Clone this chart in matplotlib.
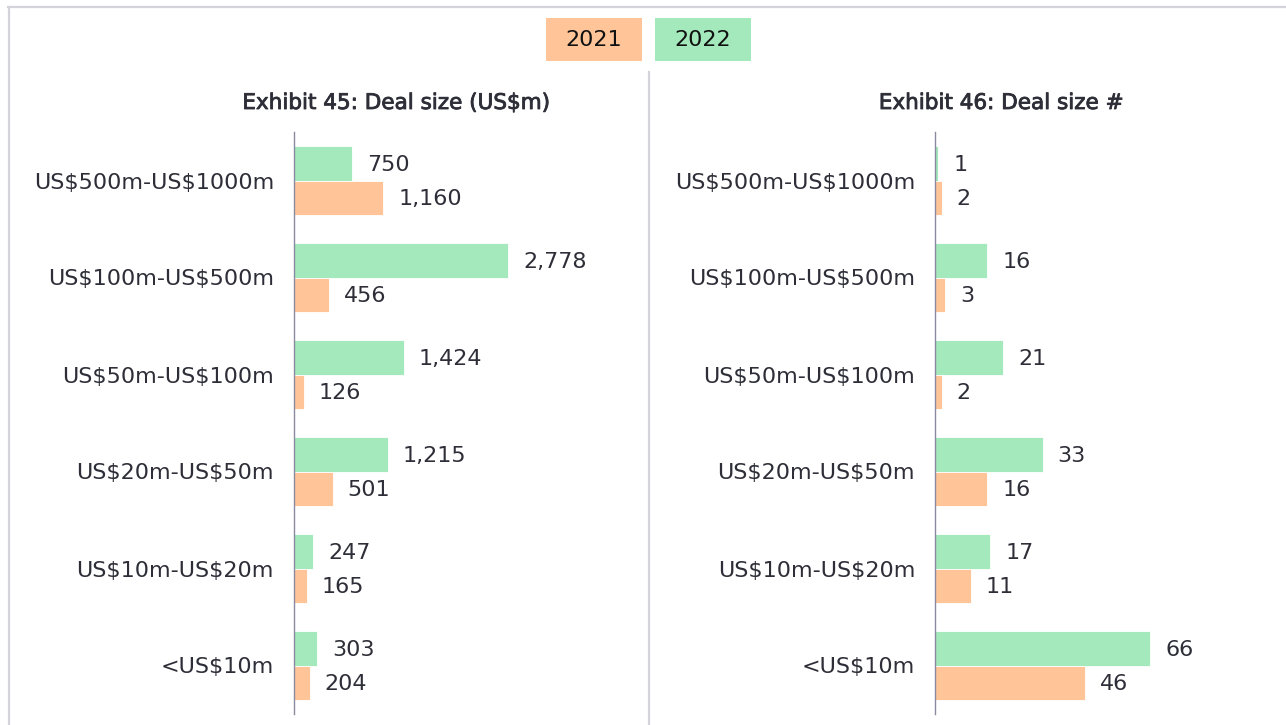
import matplotlib
matplotlib.use("Agg")
import matplotlib.pyplot as plt
import matplotlib.patheffects as pe
from matplotlib.patches import Rectangle
from matplotlib.lines import Line2D

categories = ["US$500m-US$1000m", "US$100m-US$500m", "US$50m-US$100m",
              "US$20m-US$50m", "US$10m-US$20m", "<US$10m"]
value_2022 = [750, 2778, 1424, 1215, 247, 303]
value_2021 = [1160, 456, 126, 501, 165, 204]
count_2022 = [1, 16, 21, 33, 17, 66]
count_2021 = [2, 3, 2, 16, 11, 46]
years = ["2021", "2022"]
titles = ["Exhibit 45: Deal size (US$m)", "Exhibit 46: Deal size #"]

C21 = "#FFC598"
C22 = "#A3E9BB"
TXT = "#2E2E38"
GRID = "#D4D3DB"
AXC = "#8A8AA0"

W, H = 1286, 725
plt.rcParams['font.family'] = ['DejaVu Sans']
plt.rcParams['text.parse_math'] = False
fig = plt.figure(figsize=(W / 100, H / 100), dpi=100)
FS = 16


def fx(px):
    return px / W


def fy(py):
    return 1 - py / H


# border (top and left visible)
fig.add_artist(Line2D([fx(8), 1], [fy(7), fy(7)], color=GRID, lw=1.6, transform=fig.transFigure))
fig.add_artist(Line2D([fx(9), fx(9)], [fy(7), 0], color=GRID, lw=1.6, transform=fig.transFigure))
# separator
fig.add_artist(Line2D([fx(649), fx(649)], [fy(72), 0], color=GRID, lw=1.6, transform=fig.transFigure))

# legend boxes
for (x0, x1), lab, col in zip([(546, 642), (655, 751)], years, [C21, C22]):
    fig.add_artist(Rectangle((fx(x0), fy(61)), fx(x1) - fx(x0), fy(18) - fy(61),
                             facecolor=col, edgecolor='none', transform=fig.transFigure))
    fig.text(fx((x0 + x1) / 2), fy(40), lab, ha='center', va='center', fontsize=FS, color='#111111')

panels = [
    dict(left=294, right=640, scale=0.07703, v22=value_2022, v21=value_2021, fmt="{:,}", tx=396),
    dict(left=935, right=1280, scale=3.258, v22=count_2022, v21=count_2021, fmt="{:,}", tx=1001),
]
top, bottom = 132, 714
bh = 0.354
for p, title in zip(panels, titles):
    ax = fig.add_axes([fx(p['left']), fy(bottom), fx(p['right']) - fx(p['left']), fy(top) - fy(bottom)])
    n = len(categories)
    ys = list(range(n))
    ax.barh([y - bh / 2 for y in ys], p['v22'], height=bh, color=C22, edgecolor='white', linewidth=0.6)
    ax.barh([y + bh / 2 for y in ys], p['v21'], height=bh, color=C21, edgecolor='white', linewidth=0.6)
    ax.set_xlim(0, (p['right'] - p['left']) / p['scale'])
    ax.set_ylim(n - 0.5, -0.5)
    ax.set_yticks(ys)
    ax.set_yticklabels(categories, fontsize=FS, color=TXT)
    ax.tick_params(axis='y', length=0, pad=14.4)
    ax.set_xticks([])
    for s in ['top', 'right', 'bottom']:
        ax.spines[s].set_visible(False)
    ax.spines['left'].set_color(AXC)
    ax.spines['left'].set_linewidth(1.0)
    for y, v in zip(ys, p['v22']):
        ax.annotate(p['fmt'].format(v), xy=(v, y - bh / 2), xytext=(10.8, -1), textcoords='offset points',
                    va='center', ha='left', fontsize=FS, color=TXT)
    for y, v in zip(ys, p['v21']):
        ax.annotate(p['fmt'].format(v), xy=(v, y + bh / 2), xytext=(10.8, -1), textcoords='offset points',
                    va='center', ha='left', fontsize=FS, color=TXT)
    fig.text(fx(p['tx']), fy(103), title, ha='center', va='center', fontsize=15.5, color=TXT,
             path_effects=[pe.withStroke(linewidth=0.6, foreground=TXT)])

fig.savefig("out.png", dpi=100, facecolor='white')
